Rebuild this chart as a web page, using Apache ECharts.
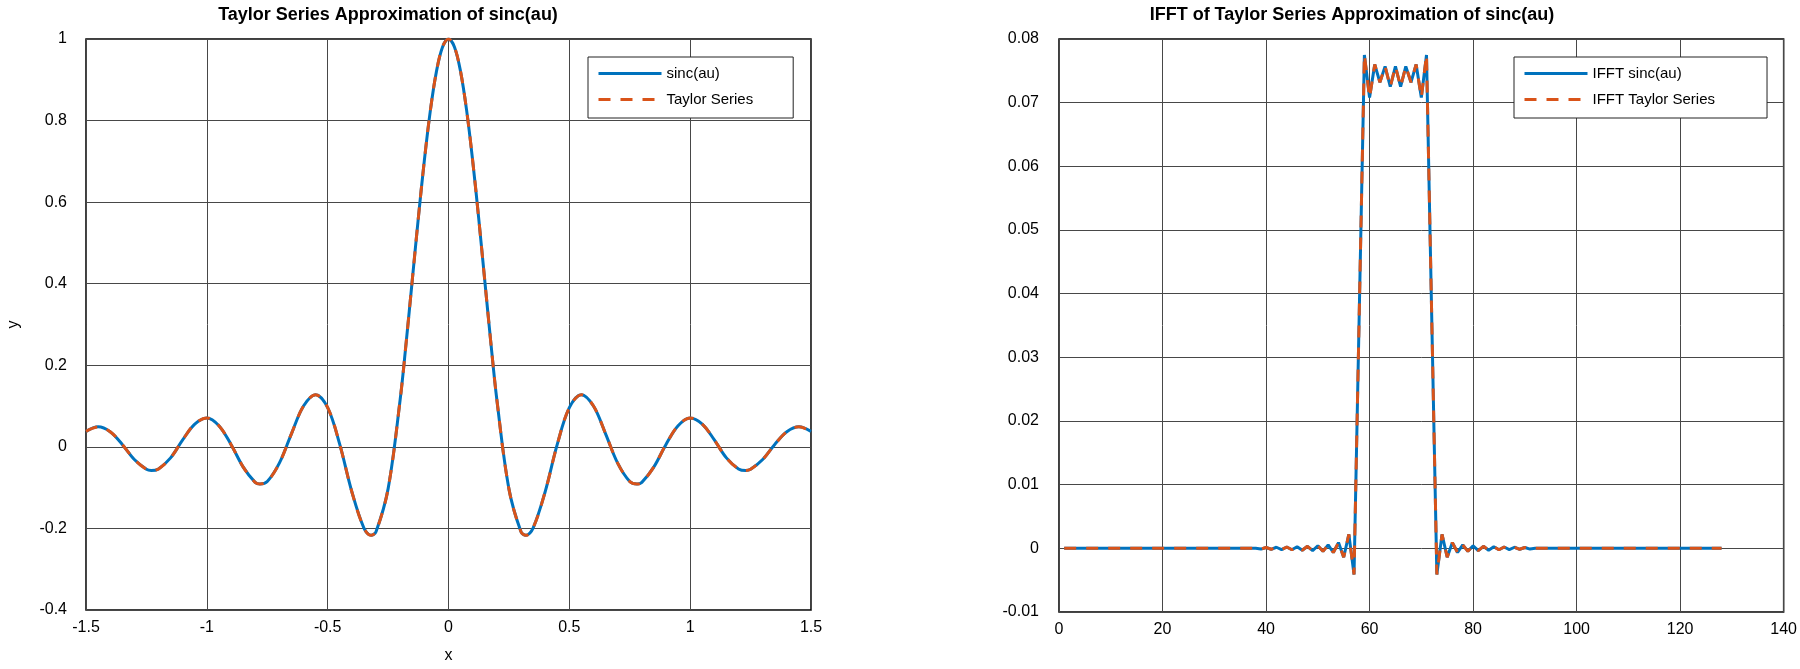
<!DOCTYPE html>
<html>
<head>
<meta charset="utf-8">
<script src="https://cdn.jsdelivr.net/npm/echarts@6/dist/echarts.min.js"></script>
<style>
  html, body { margin: 0; padding: 0; background: #fff; }
  #chart { width: 1800px; height: 669px; }
</style>
</head>
<body>
<div id="chart"></div>
<script>
// left plot: sinc(au) and its Taylor series
var sincX = [
  -1.5, -1.45, -1.4, -1.35, -1.3, -1.25, -1.23, -1.2, -1.15, -1.1, -1.05, -1.0,
  -0.95, -0.9, -0.85, -0.8, -0.78, -0.75, -0.7, -0.65, -0.6, -0.55, -0.5, -0.45,
  -0.4, -0.35, -0.32, -0.3, -0.25, -0.2, -0.175, -0.15, -0.125, -0.1, -0.075, -0.05, -0.025,
  0,
  0.025, 0.05, 0.075, 0.1, 0.125, 0.15, 0.175, 0.2, 0.25, 0.3, 0.32, 0.35, 0.4,
  0.45, 0.5, 0.55, 0.6, 0.65, 0.7, 0.75, 0.78, 0.8, 0.85, 0.9, 0.95,
  1.0, 1.05, 1.1, 1.15, 1.2, 1.23, 1.25, 1.3, 1.35, 1.4, 1.45, 1.5
];
var sincY = [
  0.038, 0.049, 0.037, 0.006, -0.031, -0.055, -0.058, -0.054, -0.027, 0.017, 0.056, 0.071,
  0.052, 0.006, -0.049, -0.087, -0.091, -0.085, -0.040, 0.032, 0.100, 0.128, 0.096, 0.006,
  -0.110, -0.199, -0.217, -0.208, -0.103, 0.116, 0.257, 0.408, 0.560, 0.702, 0.825, 0.920, 0.980,
  1.0,
  0.980, 0.920, 0.825, 0.702, 0.560, 0.408, 0.257, 0.116, -0.103, -0.208, -0.217, -0.199, -0.110,
  0.006, 0.096, 0.128, 0.100, 0.032, -0.040, -0.085, -0.091, -0.087, -0.049, 0.006, 0.052,
  0.071, 0.056, 0.017, -0.027, -0.054, -0.058, -0.055, -0.031, 0.006, 0.037, 0.049, 0.038
];
var taylorY = sincY;

// right plot: IFFT values, sample index 1..128
var ifftY = [
  0, 0, 0, 0, 0, 0, 0, 0, 0, 0,
  0, 0, 0, 0, 0, 0, 0, 0, 0, 0,
  0, 0, 0, 0, 0, 0, 0, 0, 0, 0,
  0, 0, 0, 0, 0, 0, 0, 0,
  -0.00012, 0.00013, -0.00015, 0.00017, -0.00019, 0.00021, -0.00023, 0.00026, -0.00029, 0.00032,
  -0.00036, 0.00041, -0.00047, 0.00055, -0.00066, 0.0009, -0.0014, 0.0022, -0.0041,
  0.0367, 0.0775, 0.0708, 0.0760, 0.0732, 0.0757, 0.0725, 0.0757, 0.0725, 0.0757,
  0.0732, 0.0760, 0.0708, 0.0775, 0.0367,
  -0.0041, 0.0022, -0.0014, 0.0009, -0.00066, 0.00055, -0.00047, 0.00041, -0.00036, 0.00032,
  -0.00029, 0.00026, -0.00023, 0.00021, -0.00019, 0.00017, -0.00015, 0.00013, -0.00012,
  0, 0, 0, 0, 0, 0, 0, 0, 0, 0,
  0, 0, 0, 0, 0, 0, 0, 0, 0, 0,
  0, 0, 0, 0, 0, 0, 0, 0, 0, 0,
  0, 0, 0, 0, 0, 0, 0
];
var ifftTaylorY = ifftY;

var BLUE = "#0072BD";
var ORANGE = "#D95319";
var FONT = "'Liberation Sans', Arial, sans-serif";

var fmt = function (v) { return String(+v.toFixed(4)); };

var pairs = function (xs, ys) {
  return ys.map(function (y, i) { return [xs[i], y]; });
};
var indexed = function (ys) {
  return ys.map(function (y, i) { return [i + 1, y]; });
};

var axisCommon = {
  axisLine: { show: false },
  axisTick: { show: false },
  splitLine: { show: true, lineStyle: { color: "#474747", width: 1 } },
  axisLabel: { color: "#000", fontSize: 16, fontFamily: FONT, formatter: fmt },
};

var legendCommon = {
  orient: "vertical", top: 57,
  itemGap: 11, itemWidth: 63, itemHeight: 14,
  backgroundColor: "#fff", borderColor: "#222", borderWidth: 1,
  itemStyle: { opacity: 0 },
  lineStyle: { width: 3 },
  textStyle: { fontSize: 15, color: "#000", fontFamily: FONT },
};

var chart = echarts.init(document.getElementById("chart"));
var option = {
  animation: false,
  textStyle: { fontFamily: FONT },
  title: [
    {
      text: "Taylor Series Approximation of sinc(au)",
      left: 388, top: 6, padding: 0, textAlign: "center",
      textStyle: { fontSize: 18, fontWeight: "bold", color: "#000", fontFamily: FONT },
    },
    {
      text: "IFFT of Taylor Series Approximation of sinc(au)",
      left: 1352, top: 6, padding: 0, textAlign: "center",
      textStyle: { fontSize: 18, fontWeight: "bold", color: "#000", fontFamily: FONT },
    },
  ],
  grid: [
    { left: 86, top: 39, width: 725, height: 573, show: true, borderColor: "#000", borderWidth: 1.5 },
    { left: 1059, top: 39, width: 728, height: 573, show: true, borderColor: "#000", borderWidth: 1.5 },
  ],
  legend: [
    Object.assign({}, legendCommon, {
      data: ["sinc(au)", "Taylor Series"],
      left: 588, padding: [9, 40, 11, 9],
    }),
    Object.assign({}, legendCommon, {
      data: ["IFFT sinc(au)", "IFFT Taylor Series"],
      left: 1514, padding: [9, 52, 11, 9],
    }),
  ],
  xAxis: [
    Object.assign({}, axisCommon, {
      type: "value", gridIndex: 0, min: -1.5, max: 1.5, interval: 0.5,
      name: "x", nameLocation: "middle", nameGap: 38,
      nameTextStyle: { fontSize: 16, color: "#000", fontFamily: FONT },
      axisLabel: Object.assign({}, axisCommon.axisLabel, { margin: 10 }),
    }),
    Object.assign({}, axisCommon, {
      type: "value", gridIndex: 1, min: 0, max: 140, interval: 20,
      axisLabel: Object.assign({}, axisCommon.axisLabel, { margin: 10 }),
    }),
  ],
  yAxis: [
    Object.assign({}, axisCommon, {
      type: "value", gridIndex: 0, min: -0.4, max: 1, interval: 0.2,
      name: "y", nameLocation: "middle", nameGap: 64,
      nameTextStyle: { fontSize: 16, color: "#000", fontFamily: FONT },
      axisLabel: Object.assign({}, axisCommon.axisLabel, { margin: 19 }),
    }),
    Object.assign({}, axisCommon, {
      type: "value", gridIndex: 1, min: -0.01, max: 0.08, interval: 0.01,
      axisLabel: Object.assign({}, axisCommon.axisLabel, { margin: 20 }),
    }),
  ],
  series: [
    {
      name: "sinc(au)", type: "line", xAxisIndex: 0, yAxisIndex: 0,
      data: pairs(sincX, sincY), smooth: 0.35, symbol: "none",
      lineStyle: { color: BLUE, width: 3 }, itemStyle: { color: BLUE }, z: 2,
    },
    {
      name: "Taylor Series", type: "line", xAxisIndex: 0, yAxisIndex: 0,
      data: pairs(sincX, taylorY), smooth: 0.35, symbol: "none",
      lineStyle: { color: ORANGE, width: 3, type: [12, 10] }, itemStyle: { color: ORANGE }, z: 3,
    },
    {
      name: "IFFT sinc(au)", type: "line", xAxisIndex: 1, yAxisIndex: 1,
      data: indexed(ifftY), symbol: "none",
      lineStyle: { color: BLUE, width: 3 }, itemStyle: { color: BLUE }, z: 2,
    },
    {
      name: "IFFT Taylor Series", type: "line", xAxisIndex: 1, yAxisIndex: 1,
      data: indexed(ifftTaylorY), symbol: "none",
      lineStyle: { color: ORANGE, width: 3, type: [12, 10] }, itemStyle: { color: ORANGE }, z: 3,
    },
  ],
};
chart.setOption(option);
</script>
</body>
</html>
